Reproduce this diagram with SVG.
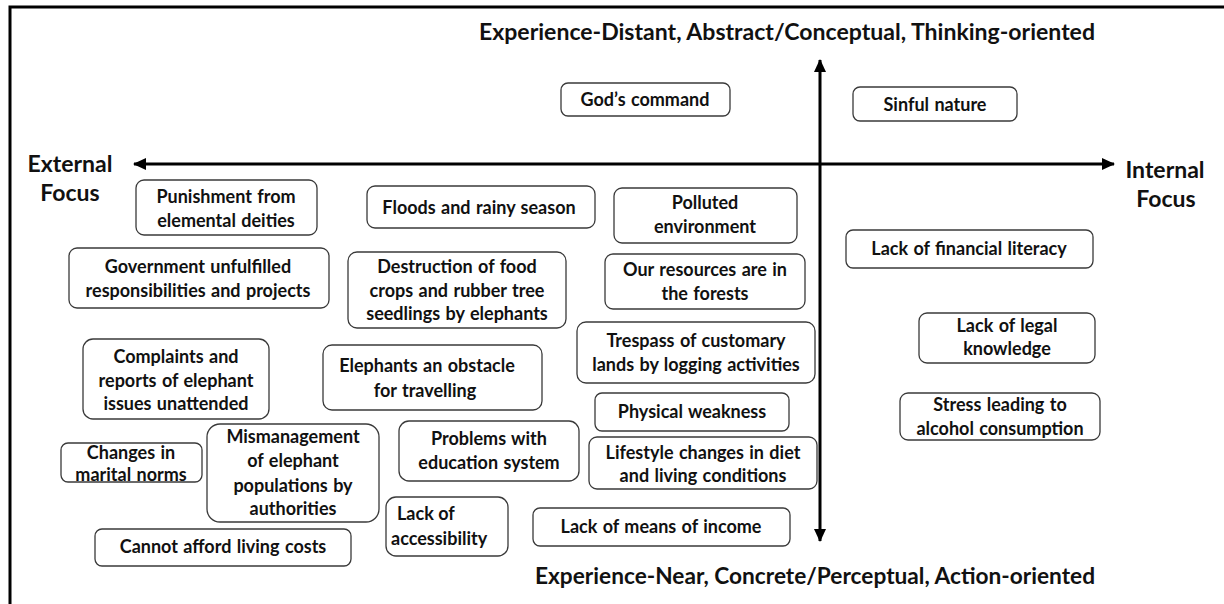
<svg xmlns="http://www.w3.org/2000/svg" width="1224" height="604" viewBox="0 0 1224 604">
<defs>
<style>
.box{fill:#fff;stroke:#3a3a3a;stroke-width:1.3}
.t{font-family:Lato,"Open Sans","Liberation Sans",sans-serif;font-weight:bold;font-size:18px;fill:#111;text-anchor:middle;word-spacing:1px}
.ts{font-family:Lato,"Open Sans","Liberation Sans",sans-serif;font-weight:bold;font-size:18px;fill:#111;text-anchor:start}
.ax{font-family:Lato,"Open Sans","Liberation Sans",sans-serif;font-weight:bold;font-size:23px;fill:#111}
.axis{stroke:#000;stroke-width:3;fill:none}
</style>
<marker id="ah" markerUnits="userSpaceOnUse" markerWidth="14" markerHeight="12" refX="12" refY="6" orient="auto-start-reverse">
<path d="M0,0 L13,6 L0,12 Z" fill="#000"/>
</marker>
</defs>
<rect width="1224" height="604" fill="#fff"/>
<path d="M10,604 V7 H1224" stroke="#000" stroke-width="3" fill="none"/>

<g id="connectors">
<line class="axis" x1="134" y1="164" x2="1114" y2="164" marker-start="url(#ah)" marker-end="url(#ah)"/>
<line class="axis" x1="820" y1="60" x2="820" y2="541" marker-start="url(#ah)" marker-end="url(#ah)"/>
</g>

<g id="axis-labels">
<text class="ax" x="479" y="40" textLength="616" lengthAdjust="spacingAndGlyphs">Experience-Distant, Abstract/Conceptual, Thinking-oriented</text>
<text class="ax" x="535" y="584" textLength="560" lengthAdjust="spacingAndGlyphs">Experience-Near, Concrete/Perceptual, Action-oriented</text>
<text class="ax" x="70" y="172" text-anchor="middle">External</text>
<text class="ax" x="70" y="201" text-anchor="middle">Focus</text>
<text class="ax" x="1165" y="178" text-anchor="middle">Internal</text>
<text class="ax" x="1166" y="207" text-anchor="middle">Focus</text>
</g>

<g id="n1"><rect class="box" x="561" y="83" width="169" height="33" rx="7"/><text class="t" x="645" y="106">God’s command</text></g>
<g id="n2"><rect class="box" x="853" y="87" width="164" height="34" rx="7"/><text class="t" x="935" y="111">Sinful nature</text></g>
<g id="n3"><rect class="box" x="136" y="180" width="181" height="55" rx="8"/><text class="t" x="226" y="203">Punishment from</text><text class="t" x="226" y="227">elemental deities</text></g>
<g id="n4"><rect class="box" x="367" y="186" width="228" height="42" rx="8"/><text class="t" x="479" y="214">Floods and rainy season</text></g>
<g id="n5"><rect class="box" x="614" y="188" width="183" height="55" rx="8"/><text class="t" x="705" y="209">Polluted</text><text class="t" x="705" y="233">environment</text></g>
<g id="n6"><rect class="box" x="69" y="248" width="260" height="60" rx="8"/><text class="t" x="198" y="273">Government unfulfilled</text><text class="t" x="198" y="297">responsibilities and projects</text></g>
<g id="n7"><rect class="box" x="348" y="252" width="218" height="76" rx="9"/><text class="t" x="457" y="273">Destruction of food</text><text class="t" x="457" y="297">crops and rubber tree</text><text class="t" x="457" y="320">seedlings by elephants</text></g>
<g id="n8"><rect class="box" x="605" y="254" width="200" height="55" rx="8"/><text class="t" x="705" y="276">Our resources are in</text><text class="t" x="705" y="300">the forests</text></g>
<g id="n9"><rect class="box" x="577" y="322" width="238" height="61" rx="9"/><text class="t" x="696" y="347">Trespass of customary</text><text class="t" x="696" y="371">lands by logging activities</text></g>
<g id="n10"><rect class="box" x="83" y="339" width="186" height="80" rx="10"/><text class="t" x="176" y="363">Complaints and</text><text class="t" x="176" y="387">reports of elephant</text><text class="t" x="176" y="410">issues unattended</text></g>
<g id="n11"><rect class="box" x="323" y="345" width="219" height="65" rx="9"/><text class="t" x="427" y="372">Elephants an obstacle</text><text class="t" x="425" y="397">for travelling</text></g>
<g id="n12"><rect class="box" x="595" y="393" width="194" height="38" rx="7"/><text class="t" x="692" y="418">Physical weakness</text></g>
<g id="n13"><rect class="box" x="846" y="230" width="247" height="38" rx="7"/><text class="t" x="969" y="255">Lack of financial literacy</text></g>
<g id="n14"><rect class="box" x="919" y="313" width="176" height="50" rx="8"/><text class="t" x="1007" y="332">Lack of legal</text><text class="t" x="1007" y="355">knowledge</text></g>
<g id="n15"><rect class="box" x="900" y="393" width="200" height="47" rx="8"/><text class="t" x="1000" y="411">Stress leading to</text><text class="t" x="1000" y="435">alcohol consumption</text></g>
<g id="n16"><rect class="box" x="61" y="443" width="141" height="39" rx="7"/><text class="t" x="131" y="459">Changes in</text><text class="t" x="131" y="481">marital norms</text></g>
<g id="n17"><rect class="box" x="207" y="424" width="172" height="98" rx="13"/><text class="t" x="293" y="443">Mismanagement</text><text class="t" x="293" y="467">of elephant</text><text class="t" x="293" y="492">populations by</text><text class="t" x="293" y="515">authorities</text></g>
<g id="n18"><rect class="box" x="399" y="421" width="180" height="60" rx="10"/><text class="t" x="489" y="445">Problems with</text><text class="t" x="489" y="469">education system</text></g>
<g id="n19"><rect class="box" x="589" y="437" width="228" height="52" rx="8"/><text class="t" x="703" y="459">Lifestyle changes in diet</text><text class="t" x="703" y="482">and living conditions</text></g>
<g id="n20"><rect class="box" x="386" y="497" width="122" height="59" rx="10"/><text class="ts" x="397" y="520">Lack of</text><text class="ts" x="391" y="545">accessibility</text></g>
<g id="n21"><rect class="box" x="533" y="508" width="257" height="38" rx="7"/><text class="t" x="661" y="533">Lack of means of income</text></g>
<g id="n22"><rect class="box" x="95" y="529" width="256" height="37" rx="7"/><text class="t" x="223" y="553">Cannot afford living costs</text></g>
</svg>
